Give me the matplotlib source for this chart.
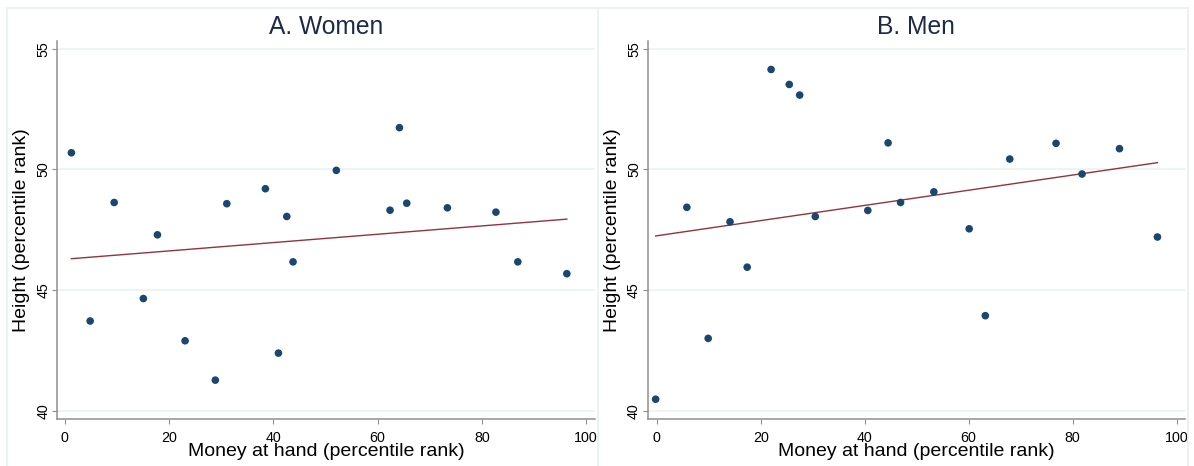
import matplotlib
matplotlib.use("Agg")
import matplotlib.pyplot as plt
import numpy as np
from matplotlib.lines import Line2D

plt.rcParams['font.family'] = ['Liberation Sans', 'DejaVu Sans']

# panel A: women (binned means)
women_money = [1.3, 4.9, 9.5, 15.1, 17.8, 23.1, 28.9, 31.1, 38.5, 41.0,
               42.6, 43.8, 52.1, 62.4, 64.2, 65.6, 73.4, 82.7, 86.9, 96.3]
women_height = [50.69, 43.72, 48.63, 44.65, 47.29, 42.90, 41.27, 48.58, 49.20, 42.39,
                48.05, 46.17, 49.96, 48.31, 51.73, 48.60, 48.41, 48.23, 46.17, 45.68]
women_fit = [46.278, 0.01726]  # intercept, slope

# panel B: men
men_money = [-0.2, 5.8, 9.9, 14.1, 17.4, 22.0, 25.5, 27.5, 30.5, 40.6,
             44.5, 46.9, 53.3, 60.1, 63.2, 67.9, 76.8, 81.8, 89.0, 96.3]
men_height = [40.48, 48.43, 43.00, 47.83, 45.95, 54.14, 53.52, 53.08, 48.05, 48.30,
              51.10, 48.63, 49.07, 47.54, 43.94, 50.43, 51.08, 49.81, 50.86, 47.20]
men_fit = [47.25, 0.03146]

titles = ["A. Women", "B. Men"]
x_label = "Money at hand (percentile rank)"
y_label = "Height (percentile rank)"
x_ticks = [0, 20, 40, 60, 80, 100]
y_ticks = [40, 45, 50, 55]

W, H = 1194, 466
NAVY = "#1a476f"
MAROON = "#90353b"
GRID = "#eaf2f3"
SPINE = "#8f8f8f"
FRAME = "#eaf1f1"


def px_box(left, right, top, bottom):
    # pixel box (from top-left) -> figure fraction rect
    return [left / W, (H - bottom) / H, (right - left) / W, (bottom - top) / H]


fig = plt.figure(figsize=(W / 100, H / 100), dpi=100)
fig.patch.set_facecolor("white")

# stata-like graph region frames
for xs, ys in [((7, 1188), (8, 8)), ((7, 7), (8, 466)),
               ((597.7, 597.7), (8, 466)), ((1188, 1188), (8, 466))]:
    fig.add_artist(Line2D([x / W for x in xs], [1 - y / H for y in ys],
                          color=FRAME, lw=1.3, transform=fig.transFigure))

panels = [
    (women_money, women_height, women_fit, px_box(57, 595, 41, 419), (-1.46, 101.7)),
    (men_money, men_height, men_fit, px_box(647.7, 1185, 41, 419), (-1.73, 101.6)),
]

for (xv, yv, fit, rect, xlim), title in zip(panels, titles):
    ax = fig.add_axes(rect)
    xv = np.asarray(xv)
    yv = np.asarray(yv)
    ax.set_xlim(*xlim)
    ax.set_ylim(39.66, 55.32)

    for t in y_ticks:
        ax.axhline(t, color=GRID, lw=1.2, zorder=0)

    ax.scatter(xv, yv, s=30, color=NAVY, edgecolors="none", zorder=3)
    fx = np.array([xv.min(), xv.max()])
    ax.plot(fx, fit[0] + fit[1] * fx, color=MAROON, lw=1.0, zorder=2)

    for side in ("top", "right"):
        ax.spines[side].set_visible(False)
    for side in ("left", "bottom"):
        ax.spines[side].set_color(SPINE)
        ax.spines[side].set_linewidth(1.1)

    ax.set_xticks(x_ticks)
    ax.set_yticks(y_ticks)
    ax.tick_params(axis="both", colors=SPINE, length=3.3, width=0.8,
                   labelcolor="black", labelsize=10.3)
    ax.tick_params(axis="x", pad=5.2)
    ax.tick_params(axis="y", pad=1.5)
    for lab in ax.get_yticklabels():
        lab.set_rotation(90)
        lab.set_va("center")

    ax.set_xlabel(x_label, fontsize=14, va="center")
    ax.xaxis.set_label_coords(0.5, -0.087)
    ax.set_ylabel(y_label, fontsize=14, va="center")
    left_px = rect[0] * W
    width_px = rect[2] * W
    ax.yaxis.set_label_coords((left_px - 35.5 - left_px) / width_px + 0.0, 0.5)

    ax.text(0.5, (H - 34.5 - (H - 419)) / 378, title, transform=ax.transAxes,
            ha="center", va="baseline", fontsize=17.7, color="#1c2a48")

fig.savefig("out.png", dpi=100, facecolor="white")
